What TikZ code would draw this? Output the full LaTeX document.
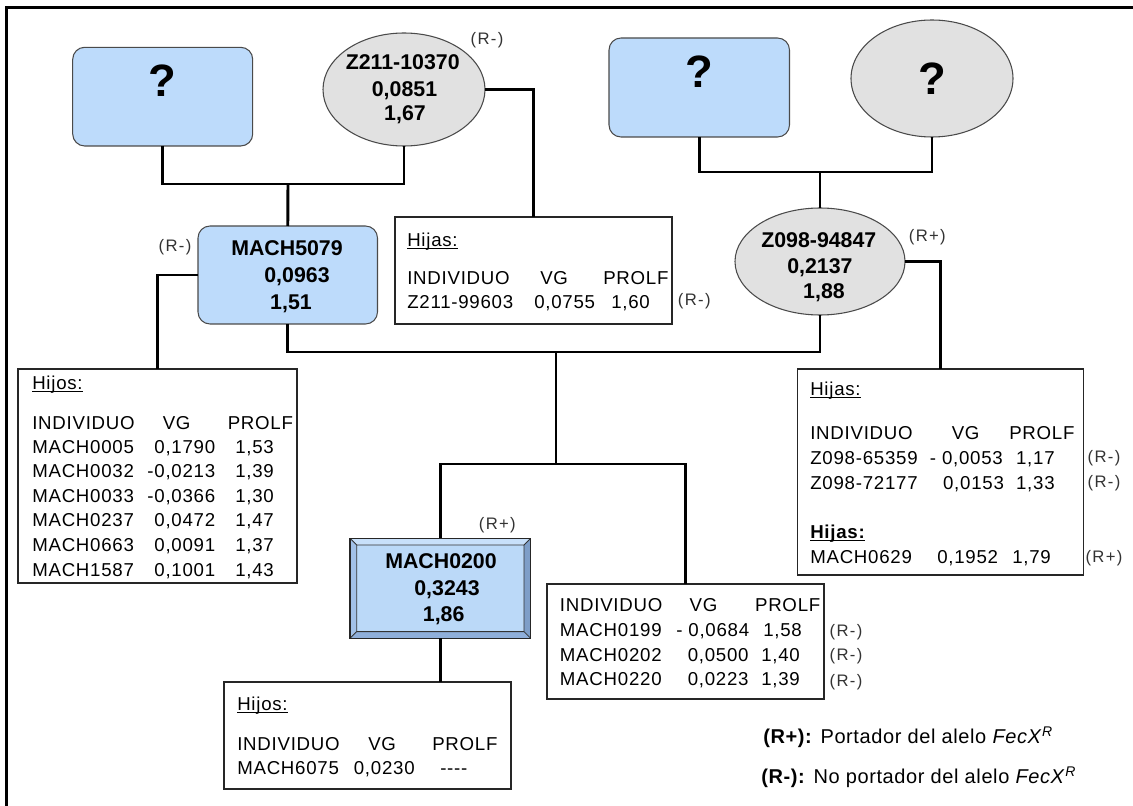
\documentclass[tikz,border=0pt]{standalone}
\usepackage{fontspec}
\setmainfont{Liberation Sans}
\newfontfamily\tabfont[LetterSpace=4]{Liberation Sans}
\newfontfamily\tagfont[LetterSpace=8]{Liberation Sans}
\newfontfamily\legfont[LetterSpace=3]{Liberation Sans}
\usetikzlibrary{calc,fit,shapes.geometric}
\newdimen\px \px=0.75pt
\definecolor{maleblue}{HTML}{BDDBFB}
\definecolor{femgray}{HTML}{E1E1E1}
\definecolor{shapeline}{HTML}{4A4A4A}
\definecolor{tagcol}{HTML}{333333}
\definecolor{bevface}{HTML}{BBD9F8}
\definecolor{bevtop}{HTML}{C8E0FA}
\definecolor{bevleft}{HTML}{A2C1E8}
\definecolor{bevright}{HTML}{7E9EC8}
\definecolor{bevbottom}{HTML}{8FAFDA}
% underlined heading inside the data boxes
\newcommand\hdrline[1]{\setbox0\hbox{#1}\rlap{\rule[-2pt]{\wd0}{0.9pt}}\box0}
\begin{document}
\begin{tikzpicture}[x=0.75pt,y=-0.75pt,
  conn/.style={line width=2.2pt,line join=miter},
  male/.style={rectangle,rounded corners=9pt,draw=shapeline,fill=maleblue,line width=0.8pt,inner sep=0pt,outer sep=0pt},
  female/.style={ellipse,draw=shapeline,fill=femgray,line width=0.8pt,inner sep=0pt,outer sep=0pt},
  qmark/.style={font=\bfseries\fontsize{34}{36}\selectfont},
  plabel/.style={font=\bfseries\fontsize{16}{19}\selectfont,anchor=base,inner sep=0pt},
  databox/.style={rectangle,draw=black!85,line width=1pt,fill=white,inner sep=0pt,outer sep=0pt},
  tx/.style={font=\tabfont\fontsize{14}{16}\selectfont,anchor=base west,inner sep=0pt},
  txe/.style={tx,anchor=base east},
  tag/.style={font=\tagfont\fontsize{12.5}{14}\selectfont,text=tagcol,inner sep=0pt},
  legend/.style={font=\legfont\fontsize{15}{18}\selectfont,anchor=base west,inner sep=0pt}]
\path[use as bounding box] (0,0) rectangle (1133,806);
\clip (0,0) rectangle (1133,806);
\draw[line width=2pt] (6.7,7.5) rectangle (1150,830);

% ---------- grandparents ----------
\node[male,qmark,fit={(72.7,47.3)(252.7,146)}] (qA) {?};
\node[female,minimum width=162\px,minimum height=113\px] (z211) at (404,89.5) {};
\node[male,qmark,fit={(609,38)(789.5,137)}] (qB) {?};
\node[female,qmark,minimum width=162\px,minimum height=117\px] (qC) at (932,78.5) {?};

% ---------- parents ----------
\node[male,fit={(198,226)(377.5,324)}] (m5079) {};
\node[female,minimum width=170\px,minimum height=107\px] (z098) at (820,261.5) {};

% ---------- proband (bevelled box) ----------
\node[rectangle,fill=bevface,inner sep=0pt,outer sep=0pt,fit={(350,538.3)(530.7,638.3)}] (m0200) {};
\coordinate (iNW) at ($(m0200.north west)+(6.7,6.7)$);
\coordinate (iNE) at ($(m0200.north east)+(-6.7,6.7)$);
\coordinate (iSW) at ($(m0200.south west)+(6.7,-6.7)$);
\coordinate (iSE) at ($(m0200.south east)+(-6.7,-6.7)$);
\fill[bevtop] (m0200.north west) -- (m0200.north east) -- (iNE) -- (iNW) -- cycle;
\fill[bevleft] (m0200.north west) -- (iNW) -- (iSW) -- (m0200.south west) -- cycle;
\fill[bevright] (m0200.north east) -- (m0200.south east) -- (iSE) -- (iNE) -- cycle;
\fill[bevbottom] (m0200.south west) -- (iSW) -- (iSE) -- (m0200.south east) -- cycle;
\draw[black!80,line width=0.6pt] (iNW) rectangle (iSE)
  (m0200.north west) -- (iNW) (m0200.north east) -- (iNE)
  (m0200.south west) -- (iSW) (m0200.south east) -- (iSE);
\draw[black!85,line width=0.9pt] (m0200.north west) rectangle (m0200.south east);

% ---------- data boxes ----------
\node[databox,fit={(395,217)(672,324)}] (hijasZ) {};
\node[databox,fit={(18,369)(297,583)}] (hijosA) {};
\node[databox,fit={(797.5,369)(1083.5,575)}] (hijasY) {};
\node[databox,fit={(547,584)(824,699)}] (sibs) {};
\node[databox,fit={(224,682)(511,789)}] (hijosB) {};

% ---------- connectors ----------
\coordinate (j1) at (288,184);
\coordinate (j2) at (820,172);
\coordinate (j3) at (556,352);
\coordinate (j4) at (556,464);
\draw[conn] (qA.south) |- (j1) -| (z211.south);
\draw[conn] (j1) -- (m5079.north);
\draw[conn] (qB.south) |- (j2) -| (qC.south);
\draw[conn] (j2) -- (z098.north);
\draw[conn] (z211.east) -| (hijasZ.north);
\draw[conn] (z098.east) -| (hijasY.north);
\draw[conn] (m5079.west) -| (hijosA.north);
\draw[conn] (m5079.south) |- (j3) -| (z098.south);
\draw[conn] (j3) -- (j4);
\draw[conn] (m0200.north) |- (j4) -| (sibs.north);
\draw[conn] (m0200.south) -- (m0200.south |- hijosB.north);

% ---------- person labels ----------
\node[plabel] (z211a) at (402.7,70) {Z211-10370};
\node[plabel] (z211b) at (404.5,96.7) {0,0851};
\node[plabel] (z211c) at (405,120.7) {1,67};
\node[plabel] (z098a) at (818.8,247.3) {Z098-94847};
\node[plabel] (z098b) at (819.9,274) {0,2137};
\node[plabel] (z098c) at (824,298.3) {1,88};
\node[plabel] (m5079a) at (287,256) {MACH5079};
\node[plabel] (m5079b) at (297,283) {0,0963};
\node[plabel] (m5079c) at (291,309.3) {1,51};
\node[plabel] (m0200a) at (441,568.3) {MACH0200};
\node[plabel] (m0200b) at (447,595) {0,3243};
\node[plabel] (m0200c) at (443.7,621.7) {1,86};

% ---------- genotype tags ----------
\node[tag] (tg1) at (487,40.5) {(R-)};
\node[tag] (tg2) at (175,247.5) {(R-)};
\node[tag] (tg3) at (694.3,300.8) {(R-)};
\node[tag] (tg4) at (927.3,237.5) {(R+)};
\node[tag] (tg5) at (497.3,524.7) {(R+)};
\node[tag] (tg6) at (1104,458) {(R-)};
\node[tag] (tg7) at (1104,483) {(R-)};
\node[tag] (tg8) at (1104,558) {(R+)};
\node[tag] (tg9) at (846,631.7) {(R-)};
\node[tag] (tg10) at (846,656) {(R-)};
\node[tag] (tg11) at (846,681.7) {(R-)};

% ---------- daughters of Z211-10370 ----------
\node[tx] (hZt) at (407,246.3) {\hdrline{Hijas:}};
\node[tx] (hZh1) at (407,284.6) {INDIVIDUO};
\node[tx] (hZh2) at (540,284.6) {VG};
\node[tx] (hZh3) at (603,284.6) {PROLF};
\node[tx] (hZr1) at (407,308.3) {Z211-99603};
\node[tx] (hZr2) at (534,308.3) {0,0755};
\node[tx] (hZr3) at (611,308.3) {1,60};

% ---------- offspring of MACH5079 ----------
\node[tx] (hAt) at (32,389.6) {\hdrline{Hijos:}};
\node[tx] (hAh1) at (32,429) {INDIVIDUO};
\node[tx] (hAh2) at (162.5,429) {VG};
\node[tx] (hAh3) at (227.5,429) {PROLF};
\foreach \id/\vg/\pf [count=\i] in
  {MACH0005/{0,1790}/{1,53}, MACH0032/{-0,0213}/{1,39}, MACH0033/{-0,0366}/{1,30},
   MACH0237/{0,0472}/{1,47}, MACH0663/{0,0091}/{1,37}, MACH1587/{0,1001}/{1,43}}{
  \node[tx] (hA\i a) at (32,{453+24.6*(\i-1)}) {\id};
  \node[txe] (hA\i b) at (215.5,{453+24.6*(\i-1)}) {\vg};
  \node[tx] (hA\i c) at (235,{453+24.6*(\i-1)}) {\pf};
}

% ---------- daughters of Z098-94847 ----------
\node[tx] (hYt) at (810,395.3) {\hdrline{Hijas:}};
\node[tx] (hYh1) at (810,439.3) {INDIVIDUO};
\node[tx] (hYh2) at (951.5,439.3) {VG};
\node[tx] (hYh3) at (1009,439.3) {PROLF};
\node[tx] (hY1a) at (810,464.3) {Z098-65359};
\node[tx] (hY1b) at (929.6,464.3) {- 0,0053};
\node[tx] (hY1c) at (1015.8,464.3) {1,17};
\node[tx] (hY2a) at (810,489.3) {Z098-72177};
\node[tx] (hY2b) at (942.8,489.3) {0,0153};
\node[tx] (hY2c) at (1015.8,489.3) {1,33};
\node[tx] (hYt2) at (810,538.3) {\hdrline{\bfseries Hijas:}};
\node[tx] (hY3a) at (810,563.3) {MACH0629};
\node[tx] (hY3b) at (937,563.3) {0,1952};
\node[tx] (hY3c) at (1012,563.3) {1,79};

% ---------- full siblings of MACH0200 ----------
\node[tx] (sh1) at (559.7,611.3) {INDIVIDUO};
\node[tx] (sh2) at (689.4,611.3) {VG};
\node[tx] (sh3) at (754.8,611.3) {PROLF};
\node[tx] (s1a) at (559.7,636.3) {MACH0199};
\node[tx] (s1b) at (676,636.3) {- 0,0684};
\node[tx] (s1c) at (763,636.3) {1,58};
\node[tx] (s2a) at (559.7,661.3) {MACH0202};
\node[tx] (s2b) at (687.5,661.3) {0,0500};
\node[tx] (s2c) at (761,661.3) {1,40};
\node[tx] (s3a) at (559.7,685.3) {MACH0220};
\node[tx] (s3b) at (687.5,685.3) {0,0223};
\node[tx] (s3c) at (761,685.3) {1,39};

% ---------- offspring of MACH0200 ----------
\node[tx] (hBt) at (237,710.3) {\hdrline{Hijos:}};
\node[tx] (hBh1) at (237,750.3) {INDIVIDUO};
\node[tx] (hBh2) at (368,750.3) {VG};
\node[tx] (hBh3) at (432,750.3) {PROLF};
\node[tx] (hB1a) at (237,774.3) {MACH6075};
\node[tx] (hB1b) at (353.6,774.3) {0,0230};
\node[tx] (hB1c) at (440,774.3) {----};

% ---------- key ----------
\node[legend] (keyP) at (763,743.5) {\textbf{(R+):} Portador del alelo \textit{FecX}\textsuperscript{\itshape R}};
\node[legend] (keyN) at (761,783.5) {\textbf{(R-):} No portador del alelo \textit{FecX}\textsuperscript{\itshape R}};
\end{tikzpicture}
\end{document}
